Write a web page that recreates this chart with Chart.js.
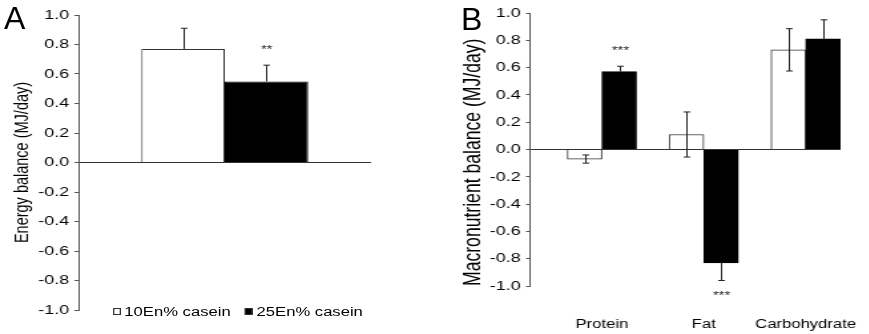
<!DOCTYPE html>
<html lang="en">
<head>
  <meta charset="UTF-8">
  <title>Energy and macronutrient balance</title>
  <style>
    body {
      margin: 0;
      width: 869px;
      height: 334px;
      background: #fff;
      font-family: 'Liberation Sans', Arial, sans-serif;
      color: #000;
      position: relative;
      overflow: hidden;
    }
    /* the figure is drawn narrow and widened, like the printed figure */
    #stage {
      position: absolute;
      left: 0;
      top: 0;
      width: 654px;
      height: 334px;
      transform: scaleX(1.33);
      transform-origin: 0 0;
    }
    .panel {
      position: absolute;
      top: 0;
      height: 334px;
    }
    #panel-a { left: 0; width: 323px; }
    #panel-b { left: 323px; width: 330px; }
    .letter {
      position: absolute;
      font-size: 32px;
      line-height: 32px;
    }
    .legend {
      position: absolute;
      left: 85px;
      top: 303px;
      font-size: 12.5px;
      line-height: 18px;
      white-space: nowrap;
    }
    .legend span.box {
      display: inline-block;
      width: 3.5px;
      height: 5px;
      border: 1px solid #333;
      margin-right: 3px;
      vertical-align: 1px;
    }
    .legend span.item { margin-right: 11px; }
  </style>
</head>
<body>
  <div id="stage">
    <div class="panel" id="panel-a"><canvas id="chart-a" width="323" height="334"></canvas></div>
    <div class="panel" id="panel-b"><canvas id="chart-b" width="330" height="334"></canvas></div>
    <div class="legend" id="legend"></div>
  </div>
  <div class="letter" style="left:4px; top:2px;">A</div>
  <div class="letter" style="left:461px; top:3px;">B</div>

  <script src="https://cdn.jsdelivr.net/npm/chart.js"></script>
  <script>
    // groups
    const seriesNames = ['10En% casein', '25En% casein'];
    const seriesFill = ['#ffffff', '#000000'];

    // panel A: energy balance (MJ/day)
    const energyGroups = ['Energy'];
    const energy10 = [0.77];
    const energy25 = [0.55];
    const energyErr10 = [0.14];
    const energyErr25 = [0.11];
    const energySig10 = [''];
    const energySig25 = ['**'];

    // panel B: macronutrient balance (MJ/day)
    const nutrients = ['Protein', 'Fat', 'Carbohydrate'];
    const macro10 = [-0.07, 0.11, 0.73];
    const macro25 = [0.57, -0.83, 0.81];
    const macroErr10 = [0.03, 0.165, 0.155];
    const macroErr25 = [0.04, 0.13, 0.14];
    const macroSig10 = ['', '', ''];
    const macroSig25 = ['***', '***', ''];

    const yTicks = [-1.0, -0.8, -0.6, -0.4, -0.2, 0.0, 0.2, 0.4, 0.6, 0.8, 1.0];

    // error bars + significance stars, drawn on top of the bars
    const errorBars = {
      id: 'errorBars',
      afterDatasetsDraw(chart) {
        const ctx = chart.ctx;
        const y = chart.scales.y;
        chart.data.datasets.forEach((ds, di) => {
          const meta = chart.getDatasetMeta(di);
          meta.data.forEach((bar, i) => {
            const v = meta.controller.getParsed(i).y;
            const e = ds.errors[i];
            const dir = v >= 0 ? 1 : -1;
            const outer = y.getPixelForValue(v + dir * e);
            const inner = ds.errorInside ? y.getPixelForValue(v - dir * e) : bar.y;
            const x = Math.round(bar.x) + 0.5;
            ctx.save();
            ctx.strokeStyle = '#222';
            ctx.lineWidth = 1;
            ctx.beginPath();
            ctx.moveTo(x, inner);
            ctx.lineTo(x, outer);
            ctx.moveTo(x - 2.5, outer);
            ctx.lineTo(x + 2.5, outer);
            if (ds.errorInside) {
              ctx.moveTo(x - 2.5, inner);
              ctx.lineTo(x + 2.5, inner);
            }
            ctx.stroke();
            const sig = ds.stars[i];
            if (sig) {
              ctx.fillStyle = '#222';
              ctx.font = '11px "Liberation Sans", Arial, sans-serif';
              ctx.textAlign = 'center';
              ctx.textBaseline = 'middle';
              ctx.fillText(sig, x, outer - dir * 15);
            }
            ctx.restore();
          });
        });
      }
    };

    function yAxis(width, title, titleSize, titlePad, titleAlign) {
      return {
        min: -1,
        max: 1,
        afterBuildTicks: (scale) => { scale.ticks = yTicks.map(v => ({ value: v })); },
        afterFit: (scale) => { scale.width = width; },
        ticks: {
          color: '#000',
          padding: 4,
          font: { size: 13.5, family: 'Liberation Sans' },
          callback: (v) => Number(v).toFixed(1)
        },
        grid: {
          drawOnChartArea: true,
          color: (c) => (c.tick && c.tick.value === 0 ? '#333' : 'rgba(0,0,0,0)'),
          tickColor: '#555',
          tickLength: 3
        },
        border: { display: true, color: '#555' },
        title: {
          display: true,
          text: title,
          color: '#000',
          align: titleAlign,
          font: { size: titleSize, family: 'Liberation Sans' },
          padding: { top: titlePad, bottom: 0 }
        }
      };
    }

    new Chart(document.getElementById('chart-a'), {
      type: 'bar',
      data: {
        labels: energyGroups,
        datasets: [
          { label: seriesNames[0], data: energy10, errors: energyErr10, stars: energySig10,
            backgroundColor: seriesFill[0], borderColor: '#333', borderWidth: 1 },
          { label: seriesNames[1], data: energy25, errors: energyErr25, stars: energySig25,
            backgroundColor: seriesFill[1], borderColor: '#000', borderWidth: 1 }
        ]
      },
      options: {
        responsive: false,
        animation: false,
        devicePixelRatio: 1,
        layout: { padding: { top: 15, bottom: 24, right: 44, left: 0 } },
        categoryPercentage: 0.57,
        barPercentage: 1.0,
        plugins: { legend: { display: false }, tooltip: { enabled: false } },
        scales: {
          x: { display: false },
          y: yAxis(59, 'Energy balance (MJ/day)', 14.5, 8.5, 'center')
        }
      },
      plugins: [errorBars]
    });

    new Chart(document.getElementById('chart-b'), {
      type: 'bar',
      data: {
        datasets: [
          { label: seriesNames[0], data: nutrients.map((n, i) => ({ x: i, y: macro10[i] })),
            errors: macroErr10, stars: macroSig10, errorInside: true,
            backgroundColor: seriesFill[0], borderColor: '#333', borderWidth: 1 },
          { label: seriesNames[1], data: nutrients.map((n, i) => ({ x: i, y: macro25[i] })),
            errors: macroErr25, stars: macroSig25,
            backgroundColor: seriesFill[1], borderColor: '#000', borderWidth: 1 }
        ]
      },
      options: {
        responsive: false,
        animation: false,
        devicePixelRatio: 1,
        layout: { padding: { top: 13, bottom: 0, right: 21, left: 0 } },
        barThickness: 26,
        plugins: { legend: { display: false }, tooltip: { enabled: false } },
        scales: {
          x: {
            type: 'linear',
            offset: false,
            min: -0.706,
            max: 2.343,
            afterBuildTicks: (scale) => { scale.ticks = nutrients.map((n, i) => ({ value: i })); },
            // labels may run past the plot edge; don't let them squeeze the plot
            afterFit: (scale) => {
              scale.height = 48;
              scale.paddingLeft = 0;
              scale.paddingRight = 0;
            },
            ticks: {
              color: '#000',
              padding: 23,
              maxRotation: 0,
              autoSkip: false,
              font: { size: 12.5, family: 'Liberation Sans' },
              callback: (v) => nutrients[v]
            },
            grid: { display: false },
            border: { display: false }
          },
          y: yAxis(75.5, 'Macronutrient balance (MJ/day)', 17.6, 22.5, 'start')
        }
      },
      plugins: [errorBars]
    });

    // legend under panel A
    document.getElementById('legend').innerHTML = seriesNames.map((name, i) =>
      '<span class="item"><span class="box" style="background:' + seriesFill[i] + '"></span>' + name + '</span>'
    ).join('');
  </script>
</body>
</html>
